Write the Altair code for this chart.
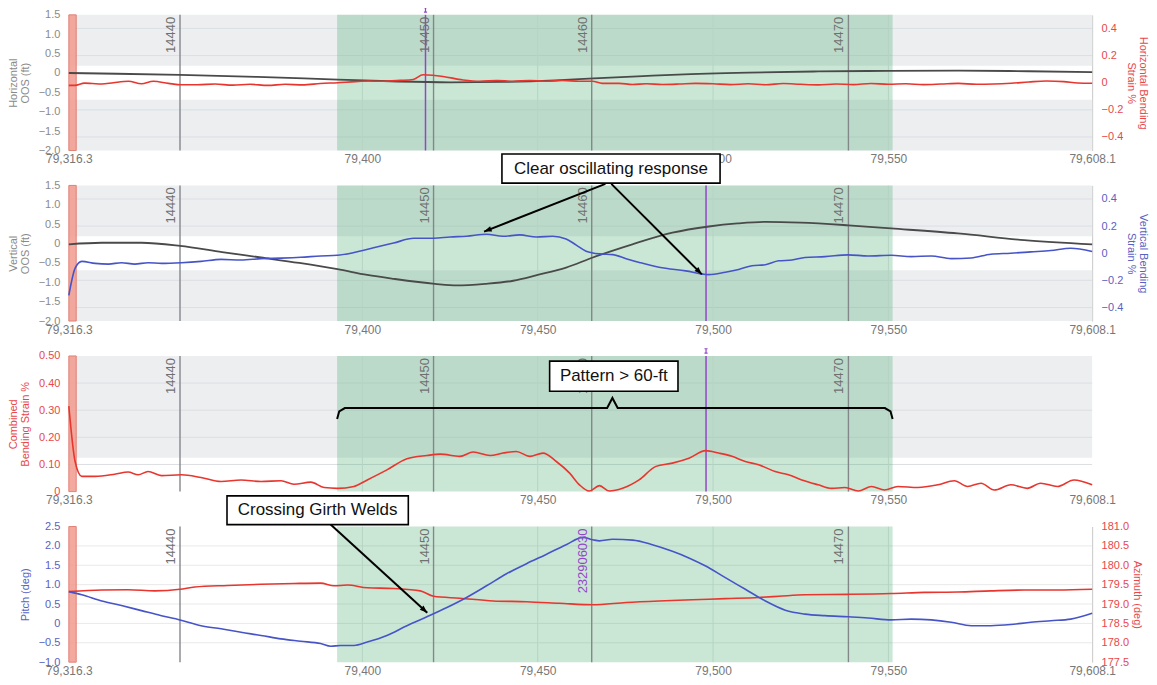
import altair as alt
import pandas as pd

FONT = "Liberation Sans"
W, H = 1026, 136

# ---------------- shared x / context data ----------------
X_DOMAIN = [79316.3, 79608.1]
X_TICKS = [79316.3, 79400, 79450, 79500, 79550, 79608.1]
X_GRID = [79400, 79450, 79500, 79550]
GREEN_BAND = [79392.8, 79551.2]
RED_BAND = [79316.3, 79318.4]
WELD_X = [79348.0, 79420.3, 79465.4, 79538.6]
WELD_LABELS = ["14440", "14450", "14460", "14470"]
PURPLE_X_P1 = 79418.0
PURPLE_X_P23 = 79498.0
PURPLE_LABEL_P4 = "232906030"
STRAIN_LIMIT = 0.125

# ---------------- panel 1: horizontal ----------------
HOOS_X = [79316.3, 79330, 79348, 79370, 79393, 79410, 79425, 79440, 79455, 79466,
          79480, 79490, 79510, 79530, 79550, 79570, 79590, 79608.1]
HOOS_Y = [0.0, -0.02, -0.05, -0.1, -0.17, -0.22, -0.24, -0.23, -0.19, -0.14,
          -0.08, -0.04, 0.01, 0.04, 0.055, 0.06, 0.045, 0.02]
HSTR_X = [79316.3, 79318, 79320.8, 79323, 79325.7, 79329, 79333.3, 79337.0, 79340.4, 79344.7,
          79348.4, 79353, 79358, 79363, 79368, 79373, 79378, 79383, 79388, 79393,
          79398, 79402, 79405.1, 79410.8, 79414.5, 79417.3, 79420, 79423.0, 79428.7, 79433.5,
          79438.4, 79442.9, 79447.7, 79452.5, 79457.1, 79461.9, 79465.6, 79468.4, 79473.3, 79477.0,
          79481.0, 79485.5, 79490.3, 79495, 79500, 79505, 79510, 79515, 79520, 79525,
          79530, 79535, 79540, 79545, 79550, 79555, 79560, 79565, 79570, 79575,
          79580, 79585, 79590, 79595, 79600, 79604, 79608.1]
HSTR_Y = [-0.02, -0.02, -0.003, -0.006, -0.01, 0.0, 0.01, -0.008, 0.01, -0.005,
          -0.015, -0.015, -0.01, -0.018, -0.012, -0.02, -0.012, -0.016, -0.006, 0.0,
          0.008, 0.012, 0.01, 0.017, 0.024, 0.058, 0.055, 0.046, 0.02, 0.01,
          0.016, 0.01, 0.016, 0.01, 0.016, 0.01, 0.01, -0.005, -0.005, -0.013,
          -0.008, -0.013, -0.01, -0.005, -0.008, -0.014, -0.008, -0.015, -0.006, -0.012,
          -0.016, -0.01, -0.014, -0.006, -0.012, -0.008, -0.014, -0.01, -0.005, -0.012,
          -0.01, -0.004, 0.005, 0.012, 0.008, -0.002, -0.004]

# ---------------- panel 2: vertical ----------------
VOOS_X = [79316.3, 79325.7, 79337.0, 79348.0, 79360, 79371.1, 79382, 79392.9, 79401.4, 79408.9,
          79420.7, 79426.9, 79435, 79443.0, 79450, 79458.1, 79465.7, 79477.0, 79488.4, 79498.8,
          79507, 79514.9, 79525, 79538.6, 79550.8, 79569.8, 79588.7, 79608.1]
VOOS_Y = [-0.02, 0.02, 0.02, -0.06, -0.22, -0.36, -0.5, -0.66, -0.81, -0.91,
          -1.04, -1.08, -1.04, -0.96, -0.81, -0.62, -0.36, -0.02, 0.28, 0.44,
          0.52, 0.56, 0.54, 0.47, 0.39, 0.26, 0.09, -0.02]
VSTR_X = [79316.3, 79318.1, 79320.0, 79323.8, 79327.6, 79331.3, 79335.1, 79338.9, 79342.7, 79348.4,
          79354.0, 79359.7, 79365.4, 79371.1, 79376.8, 79382.4, 79388.1, 79392.8, 79397.6, 79403.2,
          79408.9, 79414.6, 79420.3, 79425.0, 79429.7, 79435.4, 79440.1, 79444.9, 79449.6, 79454.3,
          79458.1, 79461.0, 79463.8, 79467.6, 79471.4, 79475.2, 79479.0, 79484.6, 79492.2, 79498.8,
          79503.5, 79507.3, 79511.1, 79514.9, 79518.7, 79522.5, 79526.2, 79531.9, 79538.5, 79544.2,
          79550.8, 79556.5, 79562.2, 79567.9, 79573.6, 79579.2, 79584.9, 79590.6, 79596.3, 79602.0,
          79608.1]
VSTR_Y = [-0.31, -0.11, -0.06, -0.075, -0.08, -0.07, -0.08, -0.07, -0.075, -0.07,
          -0.06, -0.045, -0.05, -0.04, -0.036, -0.03, -0.02, -0.015, 0.005, 0.04,
          0.075, 0.11, 0.11, 0.12, 0.125, 0.14, 0.125, 0.135, 0.12, 0.125,
          0.105, 0.06, 0.015, -0.005, -0.01, -0.04, -0.068, -0.104, -0.13, -0.158,
          -0.14, -0.12, -0.092, -0.085, -0.056, -0.05, -0.031, -0.025, -0.012, -0.02,
          -0.015, -0.025, -0.02, -0.04, -0.035, -0.007, 0.0, 0.01, 0.02, 0.037,
          0.013]

# ---------------- panel 3: combined ----------------
CSTR_X = [79316.3, 79318.1, 79320.0, 79323.8, 79329.4, 79333.2, 79336.1, 79338.9, 79342.7, 79348.4,
          79354.0, 79359.7, 79365.4, 79371.1, 79376.8, 79380.5, 79385.3, 79389.1, 79392.8, 79397.6,
          79401.4, 79407.0, 79412.7, 79418.4, 79422.2, 79427.8, 79431.6, 79436.4, 79440.1, 79443.9,
          79447.7, 79451.5, 79455.3, 79459.1, 79461.9, 79464.7, 79467.6, 79470.4, 79474.2, 79478.9,
          79483.7, 79488.4, 79493.1, 79497.9, 79501.6, 79505.4, 79509.2, 79513.0, 79517.7, 79521.5,
          79525.3, 79530.0, 79533.8, 79537.6, 79541.4, 79545.2, 79548.9, 79552.7, 79558.4, 79564.1,
          79568.8, 79572.6, 79576.4, 79580.2, 79584.9, 79589.6, 79593.4, 79598.2, 79602.9, 79608.1]
CSTR_Y = [0.315, 0.11, 0.056, 0.056, 0.064, 0.072, 0.062, 0.074, 0.059, 0.062,
          0.052, 0.037, 0.043, 0.037, 0.04, 0.027, 0.035, 0.015, 0.012, 0.019,
          0.043, 0.08, 0.121, 0.133, 0.138, 0.13, 0.146, 0.133, 0.142, 0.148,
          0.13, 0.142, 0.111, 0.068, 0.025, 0.002, 0.022, 0.002, 0.012, 0.043,
          0.093, 0.105, 0.123, 0.151, 0.142, 0.13, 0.111, 0.099, 0.074, 0.062,
          0.043, 0.025, 0.012, 0.015, 0.002, 0.019, 0.006, 0.019, 0.015, 0.025,
          0.04, 0.019, 0.031, 0.006, 0.025, 0.012, 0.031, 0.019, 0.043, 0.025]

# ---------------- panel 4: pitch / azimuth ----------------
PITCH_X = [79316.3, 79320.0, 79325.7, 79331.3, 79337.0, 79342.7, 79348.0, 79354.0, 79359.7, 79365.4,
           79371.1, 79376.8, 79382.4, 79388.1, 79391.0, 79393.8, 79397.6, 79401.4, 79407.0, 79412.7,
           79418.4, 79424.1, 79429.7, 79435.4, 79441.1, 79446.8, 79452.4, 79458.1, 79462.9, 79465.7,
           79467.6, 79471.4, 79477.1, 79482.7, 79488.4, 79493.1, 79497.9, 79503.5, 79509.2, 79514.9,
           79520.6, 79526.2, 79531.9, 79538.5, 79544.2, 79550.8, 79556.5, 79562.2, 79567.9, 79573.6,
           79579.2, 79584.9, 79590.6, 79596.3, 79602.0, 79608.1]
PITCH_Y = [0.82, 0.74, 0.58, 0.46, 0.33, 0.2, 0.09, -0.06, -0.14, -0.23,
           -0.31, -0.4, -0.46, -0.52, -0.59, -0.57, -0.57, -0.48, -0.31, -0.06,
           0.17, 0.41, 0.67, 0.97, 1.28, 1.54, 1.78, 2.03, 2.22, 2.16,
           2.13, 2.17, 2.15, 2.03, 1.86, 1.69, 1.48, 1.18, 0.88, 0.58,
           0.34, 0.24, 0.2, 0.17, 0.14, 0.09, 0.11, 0.09, 0.03, -0.06,
           -0.06, -0.03, 0.03, 0.07, 0.11, 0.26]
AZ_X = [79316.3, 79325.7, 79333.2, 79340.8, 79348.0, 79352.2, 79361.6, 79371.1, 79380.5, 79388.1,
        79391.9, 79395.7, 79401.4, 79408.9, 79416.5, 79420.3, 79427.8, 79437.3, 79446.8, 79456.2,
        79465.7, 79475.2, 79484.6, 79494.1, 79503.5, 79513.0, 79518.7, 79526.2, 79538.5, 79550.8,
        79560.3, 79569.8, 79579.2, 79588.7, 79598.2, 79608.1]
AZ_Y = [179.32, 179.36, 179.37, 179.34, 179.38, 179.44, 179.48, 179.51, 179.53, 179.54,
        179.47, 179.49, 179.42, 179.40, 179.34, 179.20, 179.15, 179.08, 179.06, 179.02,
        178.98, 179.04, 179.08, 179.11, 179.14, 179.17, 179.20, 179.24, 179.25, 179.27,
        179.30, 179.31, 179.34, 179.36, 179.36, 179.38]

# ---------------- annotations ----------------
BOX1 = {"x0": 79439.8, "x1": 79502.0, "y0": 1.56, "y1": 2.31, "text": "Clear oscillating response"}
ARROWS1 = {"x0": [79469.3, 79471.0], "y0": [1.54, 1.54], "x1": [79434.7, 79496.8],
           "y1": [0.308, -0.795], "ang": [248.5, 135.0]}
BOX2 = {"x0": 79453.4, "x1": 79490.0, "y0": 0.37, "y1": 0.481, "text": "Pattern > 60-ft"}
BRACE_X = [79392.8, 79393.4, 79395.0, 79469.8, 79471.3, 79472.8, 79549.0, 79550.6, 79551.2]
BRACE_Y = [0.268, 0.296, 0.308, 0.308, 0.345, 0.308, 0.308, 0.296, 0.268]
BOX3 = {"x0": 79361.4, "x1": 79413.1, "y0": 2.55, "y1": 3.29, "text": "Crossing Girth Welds"}
ARROWS3 = {"x0": [79390.95], "y0": [2.55], "x1": [79418.5], "y1": [0.275], "ang": [132.5]}

# ---------------- styling ----------------
GRAY_BG = "#eceef0"
GRID_ON_GRAY = "#dcdfe3"
GRID_ON_WHITE = "#e9e9e9"
RED = "#e8352e"
BLUE = "#4654c8"
BLUE_TXT = "#5a61c2"
RED_TXT = "#e8474c"
GRAY_TXT = "#8a8a8a"
DARK = "#4a4a4a"
PURPLE = "#9446c9"
ARROW_SHAPE = "M0,0L-0.8,2.2L0.8,2.2Z"
CAP_SHAPE = "M-0.7,-1L0.7,-1M0,-1L0,1M-0.7,1L0.7,1"

XAXIS = alt.Axis(values=X_TICKS,
                 labelExpr="datum.value % 1 == 0 ? format(datum.value, ',') : format(datum.value, ',.1f')",
                 title=None, grid=False, ticks=False, tickSize=0, domain=False,
                 labelColor="#777777", labelFontSize=12, labelPadding=3,
                 labelFlush=False, labelOverlap=False)


def xenc(field="x"):
    return alt.X(f"{field}:Q", scale=alt.Scale(domain=X_DOMAIN, nice=False, zero=False), axis=XAXIS)


def yenc(field, dom, axis=None):
    return alt.Y(f"{field}:Q", scale=alt.Scale(domain=dom, nice=False, zero=False), axis=axis)


def yaxis(orient, values, title, color, decimals=1, domain=False):
    return alt.Axis(orient=orient, values=values,
                    labelExpr=f"datum.value == 0 ? '0' : format(datum.value, '.{decimals}f')",
                    title=title, titleColor=color, labelColor=color, titleFontWeight="normal",
                    titleFontSize=11, labelFontSize=11, titleLineHeight=12, grid=False,
                    ticks=False, tickSize=0, domain=domain, domainColor="#c8c8c8",
                    labelPadding=9 if orient == "left" else 9,
                    titlePadding=8 if orient == "left" else 3)


def bands(ranges, dom):
    df = pd.DataFrame({"x0": [X_DOMAIN[0]] * len(ranges), "x1": [X_DOMAIN[1]] * len(ranges),
                       "y0": [r[0] for r in ranges], "y1": [r[1] for r in ranges]})
    return alt.Chart(df).mark_rect(color=GRAY_BG).encode(x=xenc("x0"), x2="x1", y=yenc("y0", dom), y2="y1")


def hgrid(values, dom, color):
    df = pd.DataFrame({"y": values, "x0": X_DOMAIN[0], "x1": X_DOMAIN[1]})
    return alt.Chart(df).mark_rule(color=color, strokeWidth=1).encode(x=xenc("x0"), x2="x1", y=yenc("y", dom))


def context_layers(purple_x=None):
    out = []
    out.append(alt.Chart(pd.DataFrame({"x": X_GRID})).mark_rule(color="#e2e5e8", strokeWidth=1)
               .encode(x=xenc("x")))
    out.append(alt.Chart(pd.DataFrame({"x0": [GREEN_BAND[0]], "x1": [GREEN_BAND[1]]}))
               .mark_rect(color="#3aa564", opacity=0.27).encode(x=xenc("x0"), x2="x1"))
    out.append(alt.Chart(pd.DataFrame({"x0": [RED_BAND[0]], "x1": [RED_BAND[1]]}))
               .mark_rect(color="#f3a094", opacity=0.9, stroke="#e07569", strokeWidth=1)
               .encode(x=xenc("x0"), x2="x1"))
    out.append(alt.Chart(pd.DataFrame({"x": WELD_X})).mark_rule(color="#83878a", strokeWidth=1.4)
               .encode(x=xenc("x")))
    if purple_x is not None:
        pdf = pd.DataFrame({"x": [purple_x]})
        out.append(alt.Chart(pdf).mark_rule(color=PURPLE, strokeWidth=1.5).encode(x=xenc("x")))
        out.append(alt.Chart(pdf).mark_point(shape=CAP_SHAPE, size=20, color=PURPLE, strokeWidth=1.2,
                                             filled=False, opacity=1)
                   .encode(x=xenc("x"), y=alt.value(-5)))
    return out


def weld_text(labels, xs, color="#707070"):
    df = pd.DataFrame({"x": xs, "label": labels})
    return alt.Chart(df).mark_text(angle=270, align="right", baseline="bottom", dx=-2, dy=-2,
                                   fontSize=13, color=color).encode(
        x=xenc("x"), y=alt.value(0), text="label:N")


def line(xs, ys, dom, color, axis=None, width=1.6):
    df = pd.DataFrame({"x": xs, "y": ys})
    return alt.Chart(df).mark_line(color=color, strokeWidth=width, interpolate="monotone").encode(
        x=xenc("x"), y=yenc("y", dom, axis))


def box(b, dom):
    df = pd.DataFrame({"x0": [b["x0"]], "x1": [b["x1"]], "y0": [b["y0"]], "y1": [b["y1"]],
                       "xc": [(b["x0"] + b["x1"]) / 2], "yc": [(b["y0"] + b["y1"]) / 2],
                       "text": [b["text"]]})
    r = alt.Chart(df).mark_rect(fill="white", stroke="black", strokeWidth=1.6).encode(
        x=xenc("x0"), x2="x1", y=yenc("y0", dom), y2="y1")
    t = alt.Chart(df).mark_text(fontSize=17, color="#111111", align="center", baseline="middle").encode(
        x=xenc("xc"), y=yenc("yc", dom), text="text:N")
    return [r, t]


def arrows(a, dom):
    df = pd.DataFrame(a)
    shaft = alt.Chart(df).mark_rule(color="black", strokeWidth=2).encode(
        x=xenc("x0"), x2="x1", y=yenc("y0", dom), y2="y1")
    head = alt.Chart(df).mark_point(shape=ARROW_SHAPE, size=48, filled=True, color="black", opacity=1).encode(
        x=xenc("x1"), y=yenc("y1", dom), angle=alt.Angle("ang:Q", scale=None))
    return [shaft, head]


OOS_DOM = [-2.0, 1.5]
OOS_TICKS = [-2.0, -1.5, -1.0, -0.5, 0, 0.5, 1.0, 1.5]
STR_DOM = [-0.5, 0.5]
STR_TICKS = [-0.4, -0.2, 0, 0.2, 0.4]
STR_BANDS = [(STRAIN_LIMIT, 0.5), (-0.5, -STRAIN_LIMIT)]

# ---- panel 1 ----
p1 = alt.layer(
    bands(STR_BANDS, STR_DOM),
    hgrid([-0.4, -0.2, 0.2, 0.4], STR_DOM, GRID_ON_GRAY),
    *context_layers(PURPLE_X_P1),
    line(HOOS_X, HOOS_Y, OOS_DOM, DARK,
         yaxis("left", OOS_TICKS, ["Horizontal", "OOS (ft)"], GRAY_TXT), width=1.8),
    line(HSTR_X, HSTR_Y, STR_DOM, RED,
         yaxis("right", STR_TICKS, ["Horizontal Bending", "Strain %"], RED_TXT, domain=True)),
    weld_text(WELD_LABELS, WELD_X),
).resolve_scale(y="independent").properties(width=W, height=H)

# ---- panel 2 ----
p2 = alt.layer(
    bands(STR_BANDS, STR_DOM),
    hgrid([-0.4, -0.2, 0.2, 0.4], STR_DOM, GRID_ON_GRAY),
    *context_layers(PURPLE_X_P23),
    line(VOOS_X, VOOS_Y, OOS_DOM, DARK,
         yaxis("left", OOS_TICKS, ["Vertical", "OOS (ft)"], GRAY_TXT), width=1.8),
    line(VSTR_X, VSTR_Y, STR_DOM, BLUE,
         yaxis("right", STR_TICKS, ["Vertical Bending", "Strain %"], BLUE_TXT, domain=True)),
    weld_text(WELD_LABELS, WELD_X),
    *arrows(ARROWS1, OOS_DOM),
    *box(BOX1, OOS_DOM),
).resolve_scale(y="independent").properties(width=W, height=H)

# ---- panel 3 ----
C_DOM = [0.0, 0.5]
C_TICKS = [0, 0.1, 0.2, 0.3, 0.4, 0.5]
brace_df = pd.DataFrame({"x": BRACE_X, "y": BRACE_Y})
p3 = alt.layer(
    bands([(STRAIN_LIMIT, 0.5)], C_DOM),
    hgrid([0.1, 0.2, 0.3, 0.4], C_DOM, GRID_ON_GRAY),
    *context_layers(PURPLE_X_P23),
    line(CSTR_X, CSTR_Y, C_DOM, RED,
         yaxis("left", C_TICKS, ["Combined", "Bending Strain %"], RED_TXT, decimals=2)),
    weld_text(WELD_LABELS, WELD_X),
    alt.Chart(brace_df).mark_line(color="black", strokeWidth=2).encode(x=xenc("x"), y=yenc("y", C_DOM)),
    *box(BOX2, C_DOM),
).resolve_scale(y="independent").properties(width=W, height=H)

# ---- panel 4 ----
P_DOM = [-1.0, 2.5]
P_TICKS = [-1.0, -0.5, 0, 0.5, 1.0, 1.5, 2.0, 2.5]
A_DOM = [177.5, 181.0]
A_TICKS = [177.5, 178.0, 178.5, 179.0, 179.5, 180.0, 180.5, 181.0]
p4 = alt.layer(
    hgrid([-0.5, 0, 0.5, 1.0, 1.5, 2.0], P_DOM, GRID_ON_WHITE),
    *context_layers(None),
    line(AZ_X, AZ_Y, A_DOM, RED,
         yaxis("right", A_TICKS, "Azimuth (deg)", RED_TXT, domain=True)),
    line(PITCH_X, PITCH_Y, P_DOM, BLUE,
         yaxis("left", P_TICKS, "Pitch (deg)", BLUE_TXT)),
    weld_text([WELD_LABELS[0], WELD_LABELS[1], WELD_LABELS[3]], [WELD_X[0], WELD_X[1], WELD_X[3]]),
    weld_text([PURPLE_LABEL_P4], [WELD_X[2]], color=PURPLE),
    *arrows(ARROWS3, P_DOM),
    *box(BOX3, P_DOM),
).resolve_scale(y="independent").properties(width=W, height=H)

chart = alt.vconcat(p1, p2, p3, p4, spacing=35, bounds="flush").configure(
    font=FONT, padding={"left": -1, "top": -4, "right": 0, "bottom": 0}
).configure_view(stroke=None)

chart.save("out.html", embed_options={"renderer": "svg", "actions": False})
